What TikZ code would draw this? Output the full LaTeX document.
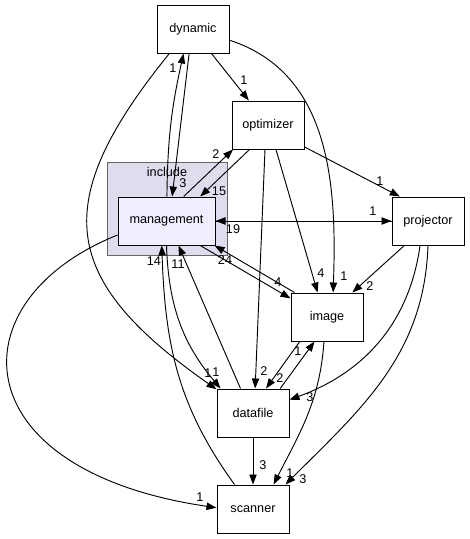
\documentclass[tikz,border=0pt]{standalone}
\usepackage{fontspec}
\setmainfont{Liberation Sans}
\usetikzlibrary{arrows.meta}
\definecolor{clusterfill}{RGB}{221,221,238}
\definecolor{clusterline}{RGB}{102,102,102}
\definecolor{mainfill}{RGB}{238,238,255}
\begin{document}
\begin{tikzpicture}[x=0.75pt, y=-0.75pt,
	dirbox/.style={draw, line width=0.75pt, fill=white, minimum width=54pt, minimum height=36pt, inner sep=0pt, font=\fontsize{9.5}{11}\selectfont},
	cluster/.style={draw=clusterline, line width=0.75pt, fill=clusterfill, minimum width=90pt, minimum height=69.75pt, inner sep=0pt},
	dep/.style={line width=0.7pt, -{Triangle[length=7.5pt,width=5.5pt]}},
	lbl/.style={inner sep=0pt, font=\fontsize{9.5}{11}\selectfont}]
			\useasboundingbox (0,0) rectangle (470,539);
			% include folder
			\node[cluster] (include) at (167,208.5) {};
			\node[lbl] (includelbl) at (167,172) {include};
			\node[dirbox, fill=mainfill, minimum width=72.75pt] (management) at (166.5,221) {management};
			% other folders
			\node[dirbox] (dynamic) at (193,29) {dynamic};
			\node[dirbox] (optimizer) at (268,125) {optimizer};
			\node[dirbox] (projector) at (428,221) {projector};
			\node[dirbox] (image) at (327,317) {image};
			\node[dirbox] (datafile) at (253,413) {datafile};
			\node[dirbox] (scanner) at (253,509) {scanner};
			% straight dependencies
			\foreach \a/\b in {dynamic.261/management.77, dynamic.307/optimizer.128, management.55/optimizer.215,
				optimizer.233/management.36, optimizer.329/projector.139, projector.west/management.east,
				management.east/projector.west, optimizer.288/image.111, optimizer.263/datafile.85,
				management.324/image.153, image.143/management.333, projector.226/image.44,
				image.222/datafile.62, datafile.42/image.243, datafile.south/scanner.north,
				datafile.117/management.296}{
				\draw[dep] (\a) -- (\b);
			}
			% curved dependencies
			\draw[dep] (management.89) to[bend left=6] (dynamic.249);
			\draw[dep] (dynamic.343) to[out=-18, in=88] (image.76);
			\draw[dep] (projector.252) to[out=262, in=20] (datafile.20);
			\draw[dep] (projector.270) to[out=268, in=45] (scanner.37);
			\draw[dep] (image.263) to[out=266, in=63] (scanner.50);
			\draw[dep] (management.270) to[out=272, in=130] (datafile.143);
			\draw[dep] (dynamic.226) to[out=231, in=145, looseness=1.45] (datafile.147);
			\draw[dep] (scanner.127) to[out=126, in=272] (management.259);
			\draw[dep] (management.196) .. controls (-45,300) and (-40,470) .. (scanner.178);
			% edge counts
			\foreach \x/\y/\t [count=\k] in {173/68/1, 183/183/3, 244/80/1, 216/154/2, 219/191/15,
				233/229/19, 373/211/1, 380/181/1, 154/261/14, 178/264/11, 225/260/24, 278/282/4,
				321/273/4, 344/276/1, 370/286/2, 298/351/1, 280/378/2, 264/371/2, 310/397/3,
				208/373/1, 216/372/1, 263/465/3, 290/473/1, 303/479/3, 200/497/1}{
				\node[lbl] (count\k) at (\x,\y) {\t};
			}
		\end{tikzpicture}
\end{document}
